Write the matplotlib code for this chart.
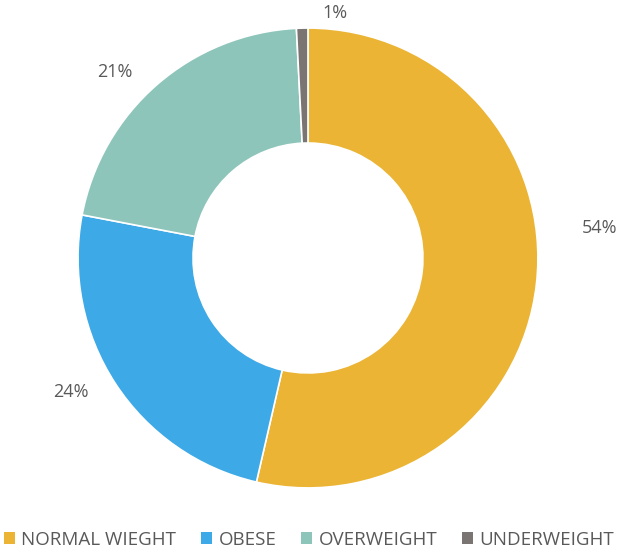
import matplotlib
matplotlib.use("Agg")
import matplotlib.pyplot as plt
from matplotlib.patches import Patch

categories = ["NORMAL WIEGHT", "OBESE", "OVERWEIGHT", "UNDERWEIGHT"]
values = [53.6, 24.4, 21.2, 0.8]
labels = ["54%", "24%", "21%", "1%"]
colors = ["#EBB434", "#3DA9E6", "#8DC5BA", "#7A7572"]
# label anchor positions (pie-radius units)
label_pos = [(1.27, 0.13), (-1.03, -0.583), (-0.839, 0.809), (0.117, 1.065)]

plt.rcParams['font.family'] = ['Open Sans', 'DejaVu Sans']
text_color = "#595959"

fig = plt.figure(figsize=(6.18, 5.5), dpi=100)
ax = fig.add_axes([0, 0, 1, 1])
ax.pie(values, colors=colors, startangle=90, counterclock=False, radius=1.0,
       wedgeprops=dict(width=0.5, edgecolor="white", linewidth=1.2))
for lab, (x, y) in zip(labels, label_pos):
    ax.text(x, y, lab, ha="center", va="center", fontsize=13, color=text_color)
ax.set_xlim(-1.339, 1.348)
ax.set_ylim(-1.270, 1.122)
ax.set_aspect("equal")
ax.axis("off")

handles = [Patch(facecolor=c, edgecolor="none") for c in colors]
fig.legend(handles, categories, loc="center", ncol=4, frameon=False,
           bbox_to_anchor=(0.5, 10 / 550), fontsize=13.5, labelcolor=text_color,
           handlelength=0.6, handleheight=0.6, handletextpad=0.35, columnspacing=1.3,
           borderpad=0)

fig.savefig("out.png", dpi=100)
